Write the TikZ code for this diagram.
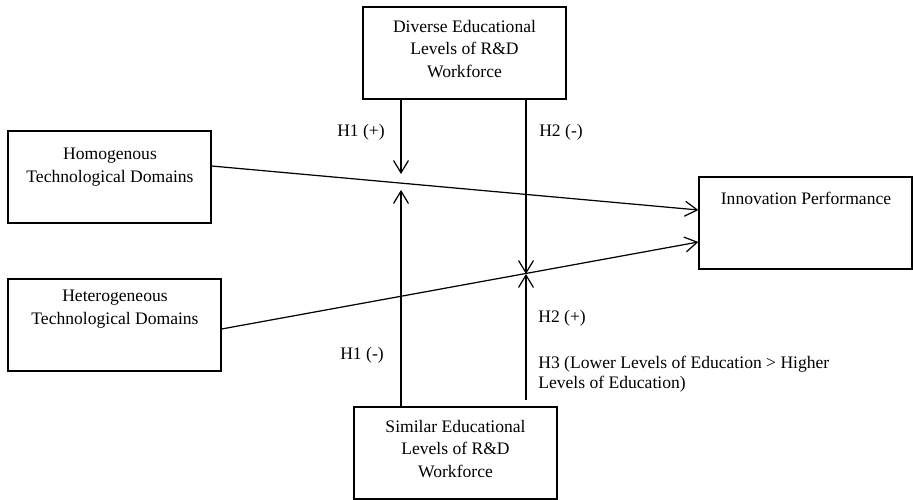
\documentclass[tikz,border=0pt]{standalone}
\usepackage{fontspec}
\setmainfont{Liberation Serif}
\usetikzlibrary{arrows.meta,positioning}
\tikzset{>={Straight Barb[length=7pt,width=8.5pt]}}
\tikzset{
  varbox/.style={draw, line width=0.7pt, minimum width=4.06cm, minimum height=1.84cm, inner sep=0pt},
  widebox/.style={varbox, minimum width=4.26cm},
  boxtext/.style={align=center, font=\fontsize{10}{13}\selectfont, inner sep=0pt},
  hyp/.style={font=\fontsize{10}{11.5}\selectfont, inner sep=0pt},
  link/.style={->, line width=0.7pt}
}

\begin{document}
\begin{tikzpicture}[x=0.02cm, y=-0.02cm]
\useasboundingbox (0,0) rectangle (913,500);
\node[varbox] (diverse) at (464.5,53) {};
\node[varbox] (homo) at (109.5,177) {};
\node[widebox] (hetero) at (114.5,325) {};
\node[widebox] (innov) at (805.5,223) {};
\node[varbox] (similar) at (455.5,453) {};
\node[boxtext] (diversetext) at (464.5,49) {Diverse Educational\\Levels of R\&D\\Workforce};
\node[boxtext] (homotext) at (110,167) {Homogenous\\Technological Domains};
\node[boxtext] (heterotext) at (115,309) {Heterogeneous\\Technological Domains};
\node[boxtext] (innovtext) at (806,198) {Innovation Performance};
\node[boxtext] (similartext) at (455.5,449) {Similar Educational\\Levels of R\&D\\Workforce};
\coordinate (m1) at (401,183);
\coordinate (m2) at (526,274);
\coordinate (s2) at (526,400);
\draw[link] ([yshift=0.22cm]homo.east) -- ([yshift=0.26cm]innov.west);
\draw[link] ([yshift=-0.08cm]hetero.east) -- ([yshift=-0.38cm]innov.west);
\draw[link] (diverse.south -| m1) -- ([yshift=0.18cm]m1);
\draw[link] (similar.north -| m1) -- ([yshift=-0.14cm]m1);
\draw[link] (diverse.south -| m2) -- (m2);
\draw[link] (s2) -- (m2);
\node[hyp] (h1plus) at (361,132) {H1 (+)};
\node[hyp] (h2minus) at (561,132) {H2 (-)};
\node[hyp] (h1minus) at (362,355) {H1 (-)};
\node[hyp, anchor=west] (h2plus) at (538,318) {H2 (+)};
\node[hyp, anchor=west, align=left] (h3) at (538,374) {H3 (Lower Levels of Education > Higher\\Levels of Education)};
\end{tikzpicture}
\end{document}
